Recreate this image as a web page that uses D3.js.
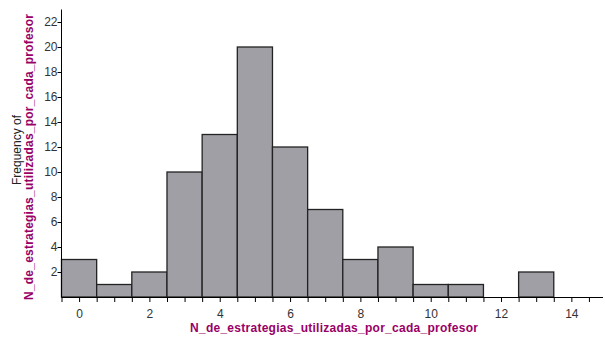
<!doctype html>
<html lang="en">
  <head>
    <meta charset="utf-8">
    <title>Histogram</title>
    <script src="https://d3js.org/d3.v7.min.js"></script>
    <style>
    body { margin: 0; background: #fff; }
    text { font-family: "Liberation Sans", Arial, sans-serif; }
    .axis text { font-size: 12px; fill: #333; }
    .axis path, .axis line { stroke: #000; }
    .lbl { font-weight: bold; font-size: 12px; fill: #990066; }
    </style>
  </head>
  <body>
    <svg width="605" height="338"></svg>
    <script>
      // bins of width 1 centred on each integer
      var binCenters = [0, 1, 2, 3, 4, 5, 6, 7, 8, 9, 10, 11, 12, 13, 14];
      var counts     = [3, 1, 2, 10, 13, 20, 12, 7, 3, 4, 1, 1, 0, 2, 0];
      var xTickLabels = [0, 2, 4, 6, 8, 10, 12, 14];
      var yTickLabels = [2, 4, 6, 8, 10, 12, 14, 16, 18, 20, 22];

      var svg = d3.select('svg');

      var x = d3.scaleLinear().domain([-0.5, 14.9]).range([61.5, 603]);
      var y = d3.scaleLinear().domain([0, 23]).range([297, 9.5]);

      // bars
      svg.append('g').selectAll('rect')
        .data(binCenters.map(function(c, i){ return {c: c, n: counts[i]}; }).filter(function(d){ return d.n > 0; }))
        .enter().append('rect')
          .attr('x', function(d){ return x(d.c - 0.5); })
          .attr('width', function(d){ return x(d.c + 0.5) - x(d.c - 0.5); })
          .attr('y', function(d){ return y(d.n); })
          .attr('height', function(d){ return y(0) - y(d.n); })
          .attr('fill', '#a09fa5')
          .attr('stroke', '#222')
          .attr('stroke-width', 1.3);

      // x axis: ticks every half unit, labels on the even values
      var halfTicks = d3.range(-0.5, 15, 0.5);
      var xAxis = d3.axisBottom(x)
        .tickValues(halfTicks)
        .tickSize(5)
        .tickFormat(function(d){ return xTickLabels.indexOf(d) >= 0 ? d : ''; });
      var gx = svg.append('g').attr('class', 'axis')
        .attr('transform', 'translate(0,297)')
        .call(xAxis);
      gx.select('.domain').attr('d', 'M' + x(-0.5) + ',0.5H603');
      gx.selectAll('.tick line').attr('stroke', '#555');
      gx.selectAll('text').attr('dy', '1.05em');

      // y axis
      var yAxis = d3.axisLeft(y).tickValues(yTickLabels).tickSize(4);
      var gy = svg.append('g').attr('class', 'axis')
        .attr('transform', 'translate(61.5,0)')
        .call(yAxis);
      gy.select('.domain').attr('d', 'M0,' + y(23) + 'V' + y(0));
      gy.selectAll('text').attr('x', -4);

      // axis titles
      svg.append('text')
        .attr('class', 'lbl')
        .attr('x', 334).attr('y', 332)
        .attr('text-anchor', 'middle')
        .attr('textLength', 288)
        .text('N_de_estrategias_utilizadas_por_cada_profesor');

      svg.append('text')
        .attr('transform', 'translate(21,150) rotate(-90)')
        .attr('text-anchor', 'middle')
        .style('font-size', '12px')
        .attr('fill', '#222')
        .text('Frequency of');

      svg.append('text')
        .attr('class', 'lbl')
        .attr('transform', 'translate(33,157) rotate(-90)')
        .attr('text-anchor', 'middle')
        .attr('textLength', 286)
        .text('N_de_estrategias_utilizadas_por_cada_profesor');
    </script>
  </body>
</html>
